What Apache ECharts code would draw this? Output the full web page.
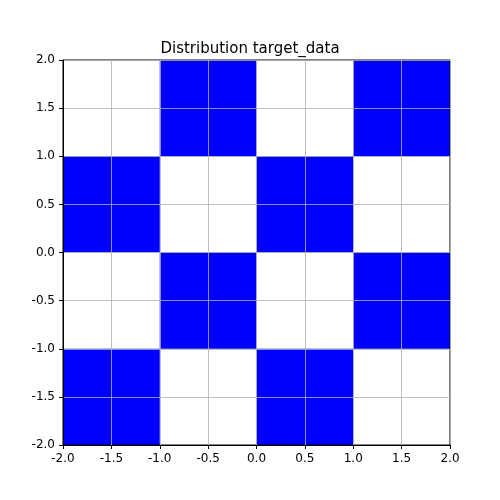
<!DOCTYPE html>
<html lang="en">
<head>
    <meta charset="UTF-8">
    <title>Distribution target_data</title>
    <style>
        body { margin: 0; }
        #chart { width: 500px; height: 500px; }
    </style>
</head>
<body>
    <div id="chart"></div>
    <script src="https://cdn.jsdelivr.net/npm/echarts@6/dist/echarts.min.js"></script>
    <script>
        // filled checkerboard cells (lower-left corner), each 1x1, densely covered by samples
        const cellX = [-1, 1, -2, 0, -1, 1, -2, 0];
        const cellY = [1, 1, 0, 0, -1, -1, -2, -2];
        const cellSize = 1;

        const chart = echarts.init(document.getElementById('chart'));

        const axisCommon = {
            type: 'value', min: -2, max: 2, interval: 0.5, z: 5,
            axisLine: { onZero: false, lineStyle: { color: '#000' } },
            axisTick: { show: true, length: 4, lineStyle: { color: '#000' } },
            axisLabel: { color: '#000', fontSize: 12, fontFamily: 'DejaVu Sans', formatter: v => v.toFixed(1) },
            splitLine: { show: true, lineStyle: { color: '#b0b0b0', width: 0.8 } }
        };

        chart.setOption({
            animation: false,
            title: {
                text: 'Distribution target_data', left: 'center', top: 37,
                textStyle: { fontSize: 15, fontWeight: 'normal', color: '#000', fontFamily: 'DejaVu Sans' }
            },
            grid: { left: 63, right: 50, top: 60, bottom: 55, show: true, borderColor: '#000', borderWidth: 1, z: 5 },
            xAxis: axisCommon,
            yAxis: axisCommon,
            series: [{
                type: 'custom',
                z: 1,
                data: cellX.map((x, i) => [x, cellY[i]]),
                renderItem: (params, api) => {
                    const p0 = api.coord([api.value(0), api.value(1) + cellSize]);
                    const p1 = api.coord([api.value(0) + cellSize, api.value(1)]);
                    return {
                        type: 'rect',
                        shape: { x: p0[0], y: p0[1], width: p1[0] - p0[0], height: p1[1] - p0[1] },
                        style: { fill: '#0000ff' }
                    };
                }
            }]
        });
    </script>
</body>
</html>
